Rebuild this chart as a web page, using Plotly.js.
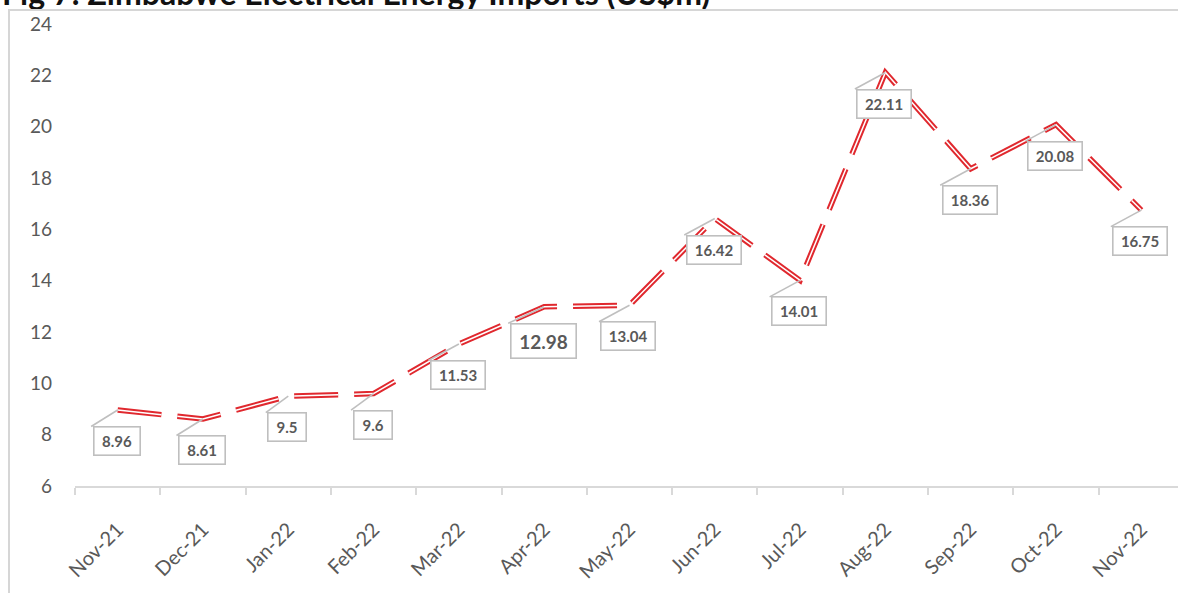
<!DOCTYPE html>
<html>
<head>
<meta charset="utf-8">
<script src="https://cdn.plot.ly/plotly-3.0.1.min.js"></script>
<style>
  html, body { margin: 0; padding: 0; background: #ffffff; }
  #wrap { position: relative; width: 1178px; height: 593px; overflow: hidden; }
  #chart { width: 1178px; height: 593px; }
  #frame { position: absolute; left: 8px; top: 9px; right: -5px; bottom: -5px;
           border-left: 2px solid #d6d6d6; border-top: 2px solid #d6d6d6; pointer-events: none; }
</style>
</head>
<body>
<div id="wrap">
  <div id="chart"></div>
  <div id="frame"></div>
</div>
<script>
// ---- data ----
const chartTitle = "Fig 7: Zimbabwe Electrical Energy Imports (US$m)";
const months = ["Nov-21","Dec-21","Jan-22","Feb-22","Mar-22","Apr-22","May-22",
                "Jun-22","Jul-22","Aug-22","Sep-22","Oct-22","Nov-22"];
const imports = [8.96, 8.61, 9.5, 9.6, 11.53, 12.98, 13.04, 16.42, 14.01, 22.11, 18.36, 20.08, 16.75];
const valueLabels = ["8.96","8.61","9.5","9.6","11.53","12.98","13.04","16.42","14.01","22.11","18.36","20.08","16.75"];
const highlightedLabel = "12.98";
const yTicks = [6, 8, 10, 12, 14, 16, 18, 20, 22, 24];

// ---- styles ----
const RED = "#e0282e";
const GREY_TXT = "#595959";
const BOX_GREY = "#bfbfbf";
const FONT = "Lato, 'Open Sans', sans-serif";
const DASH = "44px,16px";

const traces = [
  { type: "scatter", mode: "lines", x: months, y: imports,
    line: { color: RED, width: 5.5, dash: DASH }, hoverinfo: "skip", showlegend: false },
  { type: "scatter", mode: "lines", x: months, y: imports,
    line: { color: "#ffffff", width: 1.5, dash: DASH }, hoverinfo: "skip", showlegend: false }
];

const annotations = [];
const shapes = [];
months.forEach((m, i) => {
  const lbl = valueLabels[i];
  const big = lbl === highlightedLabel;
  const fsz = big ? 19 : 15;
  const h = big ? 37 : 31;
  const w = Math.round(lbl.length * fsz * 0.55 + 16);
  const yshift = big ? -34 : -31;
  annotations.push({
    x: m, y: imports[i], xref: "x", yref: "y",
    text: "<b>" + lbl + "</b>", showarrow: false,
    xshift: -1, yshift: yshift,
    font: { family: FONT, size: fsz, color: GREY_TXT },
    bgcolor: "#ffffff", bordercolor: BOX_GREY, borderwidth: 1.6,
    width: w - 4, height: h - 4, borderpad: 0, align: "center", valign: "middle"
  });
  // leader line from point to the box top-left corner
  shapes.push({
    type: "line", xref: "x", yref: "y",
    xsizemode: "pixel", ysizemode: "pixel",
    xanchor: m, yanchor: imports[i],
    x0: 0, y0: 0, x1: -w / 2 - 2, y1: yshift + h / 2 - 1,
    line: { color: BOX_GREY, width: 1.6 }, layer: "above"
  });
});

// chart title (clipped at the top of the picture, as in the source)
annotations.push({
  xref: "paper", yref: "paper", x: (712 - 75) / 1103, y: 1,
  xanchor: "right", yanchor: "middle", yshift: 32,
  text: "<b>" + chartTitle + "</b>", showarrow: false,
  font: { family: FONT, size: 32, color: "#111111" }
});

const layout = {
  width: 1178, height: 593,
  margin: { l: 75, r: 0, t: 24, b: 107, pad: 0 },
  paper_bgcolor: "#ffffff", plot_bgcolor: "#ffffff",
  showlegend: false,
  xaxis: {
    type: "category", range: [-0.5, 12.43],
    showgrid: false, zeroline: false,
    showline: true, linecolor: "#d9d9d9", linewidth: 2,
    ticks: "outside", tickson: "boundaries", ticklen: 7, tickcolor: "#d9d9d9", tickwidth: 2,
    tickangle: -45, ticklabelstandoff: 22,
    tickfont: { family: FONT, size: 20, color: GREY_TXT }
  },
  yaxis: {
    range: [6, 24], tickvals: yTicks, ticktext: yTicks.map(String),
    showgrid: false, zeroline: false, showline: false, ticks: "",
    ticklabelstandoff: 22,
    tickfont: { family: FONT, size: 19, color: GREY_TXT }
  },
  annotations: annotations,
  shapes: shapes
};

Plotly.newPlot("chart", traces, layout, { displayModeBar: false, staticPlot: true });
</script>
</body>
</html>
